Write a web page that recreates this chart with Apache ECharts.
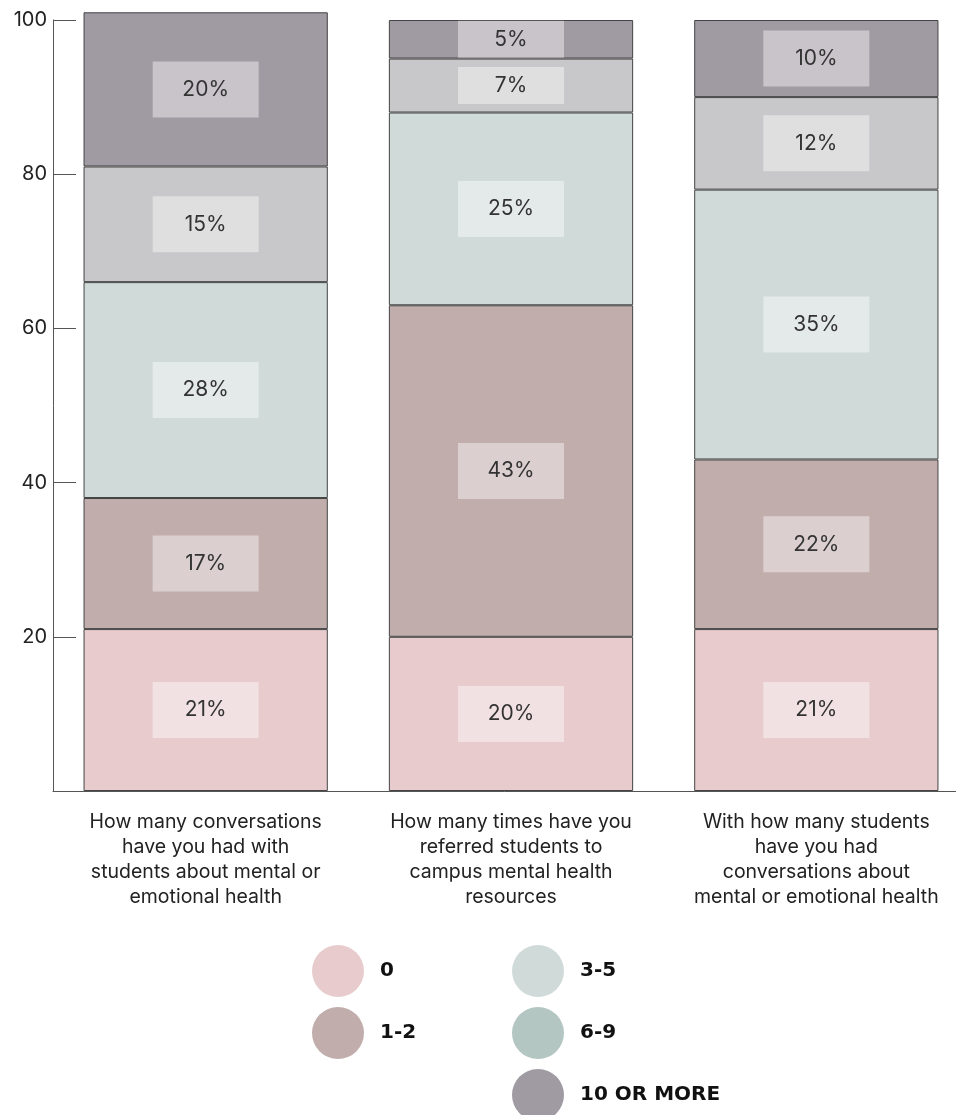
<!DOCTYPE html>
<html>
<head>
<meta charset="utf-8">
<script src="https://cdn.jsdelivr.net/npm/echarts@6/dist/echarts.min.js"></script>
<style>
  html, body { margin: 0; padding: 0; background: #fff; }
  #chart { width: 956px; height: 1115px; }
</style>
</head>
<body>
<div id="chart"></div>
<script>
// questions on the x axis
const categories = [
  'How many conversations\nhave you had with\nstudents about mental or\nemotional health',
  'How many times have you\nreferred students to\ncampus mental health\nresources',
  'With how many students\nhave you had\nconversations about\nmental or emotional health'
];

// answer shares, percent, bottom to top
const zero = [21, 20, 21];
const oneTwo = [17, 43, 22];
const threeFive = [28, 25, 35];
const sixNine = [15, 7, 12];
const tenPlus = [20, 5, 10];

const yTicks = [0, 20, 40, 60, 80, 100];

const groups = [
  { name: '0', values: zero, color: '#e8cccd', legend: '#e8cccd' },
  { name: '1-2', values: oneTwo, color: '#c1aeac', legend: '#c1aeac' },
  { name: '3-5', values: threeFive, color: '#d0dbd9', legend: '#d0dbd9' },
  { name: '6-9', values: sixNine, color: '#c8c8ca', legend: '#b3c6c1' },
  { name: '10 OR MORE', values: tenPlus, color: '#a09aa3', legend: '#a09aa3' }
];

const chart = echarts.init(document.getElementById('chart'));

const series = groups.map(g => ({
  type: 'bar',
  name: g.name,
  stack: 'total',
  barCategoryGap: '20%',
  clip: false,
  itemStyle: { color: g.color, borderColor: '#444', borderWidth: 1 },
  label: {
    show: true,
    position: 'inside',
    formatter: '{c}%',
    fontFamily: 'Inter',
    fontSize: 21,
    color: '#333',
    backgroundColor: 'rgba(255,255,255,0.42)',
    width: 106,
    align: 'center',
    verticalAlign: 'middle'
  },
  // small slices get a shorter label box
  data: g.values.map(v => ({ value: v, label: { lineHeight: v < 10 ? 37 : 56 } }))
}));

const legendText = {
  fontFamily: 'DejaVu Sans', fontWeight: 'bold', fontSize: 20, color: '#111',
  padding: [0, 0, 0, 11]
};

function legendBlock(left, list) {
  return {
    left: left, top: 940, height: 220, orient: 'vertical',
    icon: 'circle', itemWidth: 52, itemHeight: 52, itemGap: 10,
    itemStyle: { borderWidth: 0 },
    textStyle: legendText,
    data: list.map(g => ({ name: g.name, itemStyle: { color: g.legend, borderWidth: 0 } }))
  };
}

chart.setOption({
  animation: false,
  grid: { left: 53, top: 20, width: 916, height: 771, outerBoundsMode: 'none' },
  xAxis: {
    type: 'category',
    data: categories,
    axisLine: { lineStyle: { color: '#555', width: 1 } },
    axisTick: { show: false },
    axisLabel: {
      fontFamily: 'Inter',
      fontSize: 19.5,
      lineHeight: 25,
      color: '#222',
      margin: 19,
      interval: 0
    }
  },
  yAxis: {
    type: 'value',
    min: yTicks[0],
    max: yTicks[yTicks.length - 1],
    interval: 20,
    axisLine: { show: true, lineStyle: { color: '#555', width: 1 } },
    axisTick: { show: true, inside: true, length: 23, lineStyle: { color: '#555' } },
    splitLine: { show: false },
    axisLabel: {
      fontFamily: 'Inter',
      fontSize: 20,
      color: '#222',
      margin: 6,
      formatter: v => (v === 0 ? '' : String(v))
    }
  },
  legend: [
    legendBlock(307, groups.slice(0, 2)),
    legendBlock(507, groups.slice(2))
  ],
  series: series
});
</script>
</body>
</html>
